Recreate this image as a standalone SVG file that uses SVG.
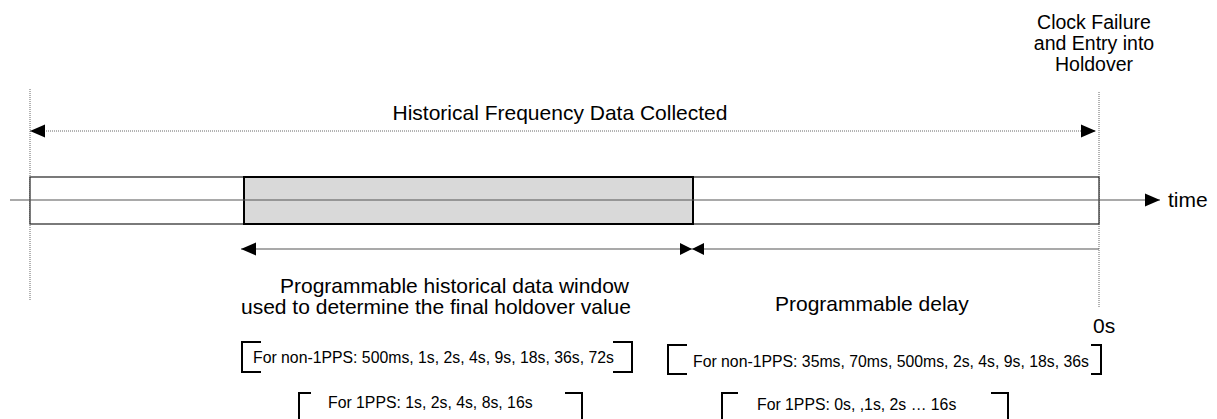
<svg xmlns="http://www.w3.org/2000/svg" width="1217" height="419" viewBox="0 0 1217 419">
<style>
  .lbl { font-family: "Liberation Sans", Arial, sans-serif; font-size: 21px; fill: #000; }
  .clk { font-family: "Liberation Sans", Arial, sans-serif; font-size: 19.5px; fill: #000; }
  .sm { font-family: "Liberation Sans", Arial, sans-serif; font-size: 15.8px; fill: #000; }
  .dot { stroke: #666; stroke-width: 1; stroke-dasharray: 1 1; fill: none; }
  .ln { stroke: #555; stroke-width: 1.2; fill: none; }
  .br { stroke: #000; stroke-width: 2; fill: none; }
</style>
<defs>
  <marker id="ah" markerUnits="userSpaceOnUse" markerWidth="18" markerHeight="14" refX="15" refY="7" orient="auto-start-reverse">
    <path d="M0,0.5 L15,7 L0,13.5 Z" fill="#000"/>
  </marker>
  <marker id="ahs" markerUnits="userSpaceOnUse" markerWidth="14" markerHeight="14" refX="12" refY="7" orient="auto-start-reverse">
    <path d="M0,1 L12,7 L0,13 Z" fill="#000"/>
  </marker>
</defs>
<rect width="1217" height="419" fill="#fff"/>

<g id="guides">
  <line class="dot" x1="30" y1="89" x2="30" y2="300"/>
  <line class="dot" x1="1099" y1="92" x2="1099" y2="307"/>
</g>

<g id="bar">
  <rect x="30" y="177" width="1069" height="47" fill="#fff" stroke="#222" stroke-width="1.2"/>
</g>
<g id="window">
  <rect x="244" y="177" width="449" height="47" fill="#d9d9d9" stroke="#000" stroke-width="2"/>
</g>

<g id="connectors">
  <line class="dot" x1="30" y1="131" x2="1096" y2="131" marker-start="url(#ah)" marker-end="url(#ah)"/>
  <line class="ln" x1="10" y1="200" x2="1160" y2="200" marker-end="url(#ah)"/>
  <line class="ln" x1="241" y1="249" x2="692" y2="249" marker-start="url(#ah)" marker-end="url(#ahs)"/>
  <line class="ln" x1="692" y1="249" x2="1099" y2="249" marker-start="url(#ahs)"/>
</g>

<g id="label-historical">
  <text class="lbl" x="560" y="120" text-anchor="middle">Historical Frequency Data Collected</text>
</g>
<g id="label-clock">
  <text class="clk" x="1094" y="29" text-anchor="middle">Clock Failure</text>
  <text class="clk" x="1094" y="50" text-anchor="middle">and Entry into</text>
  <text class="clk" x="1094" y="71" text-anchor="middle">Holdover</text>
</g>
<g id="label-time">
  <text class="lbl" x="1168" y="207">time</text>
</g>
<g id="label-window">
  <text class="lbl" x="280" y="293">Programmable historical data window</text>
  <text class="lbl" x="241" y="314">used to determine the final holdover value</text>
</g>
<g id="label-delay">
  <text class="lbl" x="775" y="311">Programmable delay</text>
</g>
<g id="label-0s">
  <text class="lbl" x="1093" y="333">0s</text>
</g>

<g id="window-options">
  <path class="br" d="M261,342 H242 V372 H261"/>
  <path class="br" d="M613,342 H632 V372 H613"/>
  <text class="sm" x="253" y="363">For non-1PPS: 500ms, 1s, 2s, 4s, 9s, 18s, 36s, 72s</text>
  <path class="br" d="M311,393 H299 V430"/>
  <path class="br" d="M565,393 H582 V430"/>
  <text class="sm" x="328" y="408">For 1PPS: 1s, 2s, 4s, 8s, 16s</text>
</g>
<g id="delay-options">
  <path class="br" d="M687,345 H668 V374 H687"/>
  <path class="br" d="M1091,345 H1101 V374 H1091"/>
  <text class="sm" x="693" y="367">For non-1PPS: 35ms, 70ms, 500ms, 2s, 4s, 9s, 18s, 36s</text>
  <path class="br" d="M738,393 H722 V430"/>
  <path class="br" d="M991,393 H1008 V430"/>
  <text class="sm" x="757" y="410">For 1PPS: 0s, ,1s, 2s … 16s</text>
</g>
</svg>
